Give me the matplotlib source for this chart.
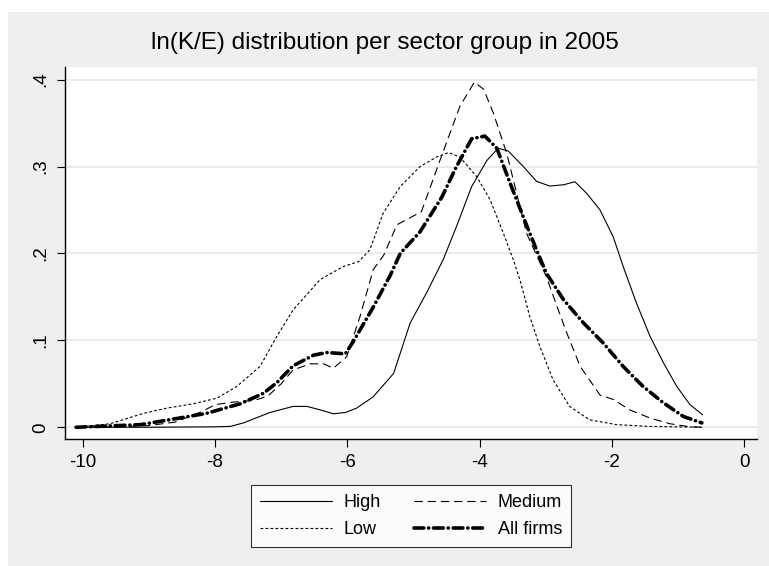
import numpy as np
import matplotlib
matplotlib.use("Agg")
import matplotlib.pyplot as plt
from matplotlib.patches import Rectangle

plt.rcParams['font.family'] = ['Liberation Sans', 'DejaVu Sans']
plt.rcParams['lines.scale_dashes'] = False

# density estimates
high_x = [-10.1, -9.0, -8.0, -7.77, -7.57, -7.17, -6.82, -6.61, -6.41, -6.21, -6.03, -5.86,
          -5.61, -5.30, -5.05, -4.80, -4.55, -4.35, -4.12, -3.89, -3.72, -3.57, -3.34, -3.14,
          -2.94, -2.73, -2.56, -2.38, -2.18, -1.98, -1.83, -1.63, -1.42, -1.22, -1.02, -0.82, -0.63]
high_y = [0.0, 0.0, 0.0005, 0.001, 0.005, 0.017, 0.024, 0.024, 0.020, 0.0155, 0.017, 0.022,
          0.035, 0.062, 0.12, 0.155, 0.193, 0.231, 0.277, 0.307, 0.321, 0.318, 0.300, 0.283,
          0.2775, 0.279, 0.2825, 0.269, 0.25, 0.219, 0.185, 0.143, 0.104, 0.074, 0.047, 0.026, 0.0144]

medium_x = [-10.1, -9.5, -9.0, -8.6, -8.2, -8.0, -7.72, -7.4, -7.2, -7.0, -6.82, -6.56, -6.36,
            -6.21, -6.01, -5.81, -5.61, -5.45, -5.25, -4.88, -4.60, -4.30, -4.08, -3.94, -3.79,
            -3.59, -3.44, -3.29, -2.99, -2.83, -2.68, -2.48, -2.18, -1.98, -1.73, -1.42, -1.12,
            -0.82, -0.63]
medium_y = [0.0, 0.0005, 0.002, 0.006, 0.018, 0.026, 0.029, 0.031, 0.036, 0.05, 0.066, 0.073, 0.073,
            0.068, 0.081, 0.127, 0.181, 0.198, 0.233, 0.248, 0.307, 0.369, 0.397, 0.389, 0.361,
            0.315, 0.269, 0.223, 0.173, 0.139, 0.108, 0.070, 0.037, 0.032, 0.020, 0.0105, 0.004,
            0.0005, 0.0]

low_x = [-10.1, -9.59, -9.08, -8.73, -8.33, -7.97, -7.67, -7.32, -7.07, -6.82, -6.41, -6.06,
         -5.83, -5.66, -5.46, -5.20, -4.90, -4.65, -4.47, -4.30, -4.04, -3.84, -3.64, -3.49,
         -3.39, -3.24, -3.09, -2.89, -2.64, -2.34, -1.93, -1.42, -0.63]
low_y = [0.0, 0.004, 0.016, 0.022, 0.027, 0.0335, 0.047, 0.070, 0.104, 0.135, 0.170, 0.185,
         0.1906, 0.204, 0.246, 0.277, 0.300, 0.311, 0.316, 0.311, 0.288, 0.2615, 0.223, 0.1925,
         0.1695, 0.127, 0.093, 0.0546, 0.024, 0.0086, 0.003, 0.001, 0.0]

all_x = [-10.1, -9.13, -8.63, -8.13, -7.62, -7.27, -7.07, -6.82, -6.51, -6.31, -6.03, -5.91,
         -5.61, -5.35, -5.20, -4.90, -4.57, -4.35, -4.12, -3.92, -3.74, -3.54, -3.34, -3.14,
         -2.99, -2.73, -2.43, -2.13, -1.83, -1.53, -1.22, -0.92, -0.64]
all_y = [0.0, 0.003, 0.0094, 0.016, 0.027, 0.039, 0.051, 0.0707, 0.083, 0.086, 0.0845, 0.0986,
         0.138, 0.175, 0.200, 0.225, 0.265, 0.300, 0.332, 0.335, 0.321, 0.281, 0.242, 0.204,
         0.177, 0.1466, 0.120, 0.0968, 0.070, 0.047, 0.028, 0.0124, 0.005]

x_ticks = [-10, -8, -6, -4, -2, 0]
y_ticks = [0, 0.1, 0.2, 0.3, 0.4]
y_labels = ['0', '.1', '.2', '.3', '.4']

W, H = 769, 566
fig = plt.figure(figsize=(W / 100, H / 100), dpi=100)
fig.patch.set_facecolor('white')
fig.patches.append(Rectangle((8 / W, 0), 1 - 8 / W, 1 - 12 / H, transform=fig.transFigure,
                             facecolor='#efefef', edgecolor='none', zorder=-10))

ax = fig.add_axes([65 / W, (H - 439) / H, (757 - 65) / W, (439 - 67) / H])
ax.set_facecolor('white')

ax.plot(high_x, high_y, color='black', lw=0.8, label='High')
ax.plot(low_x, low_y, color='black', lw=0.8, dashes=(2, 1.6), label='Low')
ax.plot(medium_x, medium_y, color='black', lw=0.8, dashes=(6, 3.5), label='Medium')
ax.plot(all_x, all_y, color='black', lw=2.6, dashes=(7, 3.5, 0.1, 3.5),
        dash_capstyle='round', label='All firms')

ax.set_xlim(-10.268, 0.193)
ax.set_ylim(-0.0135, 0.4145)
ax.set_xticks(x_ticks)
ax.set_xticklabels([str(t) for t in x_ticks])
ax.set_yticks(y_ticks)
ax.set_yticklabels(y_labels, rotation=90, va='center')
ax.tick_params(axis='both', direction='out', length=6, width=0.8, labelsize=13.5, pad=5)
ax.yaxis.grid(True, color='#e8e8e8', lw=1.2)
ax.set_axisbelow(True)
for s in ['top', 'right']:
    ax.spines[s].set_visible(False)
for s in ['left', 'bottom']:
    ax.spines[s].set_linewidth(1.0)

# title is centred on the whole figure
fig.text(0.5, 1 - 49.5 / H, 'ln(K/E) distribution per sector group in 2005',
         fontsize=17.5, ha='center', va='baseline')

leg = ax.legend(ncol=2, loc='upper center', bbox_to_anchor=(0.5, -0.1), fontsize=13,
                frameon=True, fancybox=False, handlelength=4.0, handletextpad=0.65,
                columnspacing=1.8, borderpad=0.5, labelspacing=0.55)
leg.get_frame().set_edgecolor('black')
leg.get_frame().set_linewidth(0.8)

fig.savefig('out.png', dpi=100)
